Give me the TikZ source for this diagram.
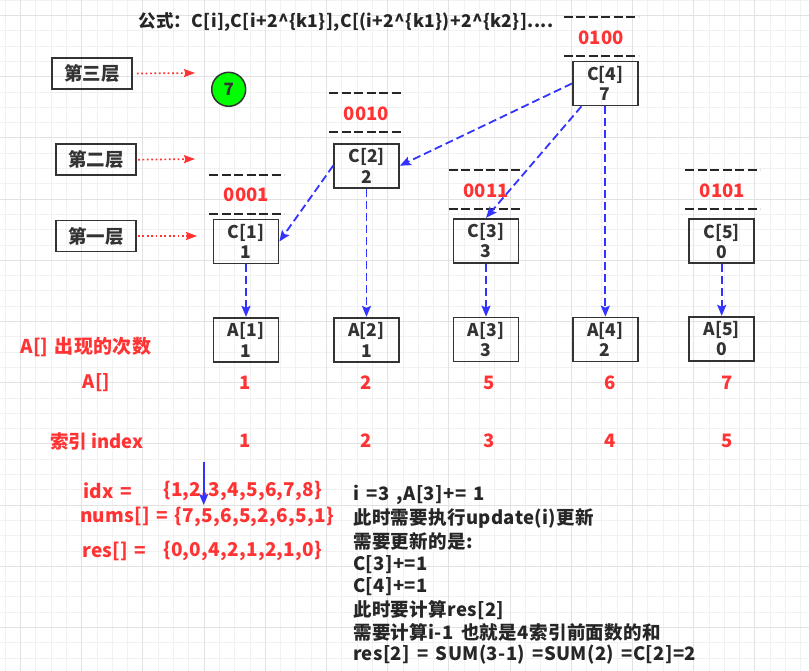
\documentclass[tikz,border=0pt]{standalone}
\usepackage{fontspec}
\setmainfont{Noto Sans CJK SC}
\newfontfamily\blackfont{Noto Sans CJK SC}[LetterSpace=2,WordSpace=1.6]
\newfontfamily\arrfont{Noto Sans CJK SC}[LetterSpace=1.5,WordSpace=1.4]
\usetikzlibrary{arrows.meta,calc}
\definecolor{myred}{HTML}{FF3333}
\definecolor{myblue}{HTML}{3333FF}
\definecolor{gridminor}{HTML}{F1F1F1}
\definecolor{gridmajor}{HTML}{E2E2E2}
\definecolor{ink}{HTML}{333333}
\definecolor{mygreen}{HTML}{00FF00}
\begin{document}
\begin{tikzpicture}[x=1pt,y=-1pt,
  layerbox/.style={draw=ink, line width=1.7, minimum width=80, minimum height=31, inner sep=0, text=ink, font=\fontsize{18.5}{20}\selectfont\bfseries},
  cbox/.style={draw=ink, line width=1.7, minimum width=65, minimum height=44, inner sep=0, align=center, text=ink, font=\fontsize{17.5}{20.5}\selectfont\bfseries},
  binlabel/.style={text=myred, inner sep=0, font=\fontsize{18.5}{20}\selectfont\bfseries},
  bindash/.style={draw=black!85, line width=1.8, dash pattern=on 9 off 3.5},
  redtext/.style={text=myred, inner sep=0, font=\fontsize{18.5}{20}\selectfont\bfseries},
  arrtext/.style={text=myred, inner sep=0, font=\arrfont\fontsize{19}{20}\selectfont\bfseries},
  blacktext/.style={text=black!85, inner sep=0, font=\blackfont\fontsize{18.5}{20}\selectfont\bfseries},
  bluearrow/.style={draw=myblue, line width=1.8, dash pattern=on 8 off 4, -{Stealth[length=11,width=9,inset=2,fill=myblue]}},
  redarrow/.style={draw=myred, line width=1.7, dash pattern=on 1.8 off 2.6, -{Stealth[length=11,width=8,inset=1.5,fill=myred]}},
]
\useasboundingbox (0,0) rectangle (809,671);
\fill[white] (0,0) rectangle (809,671);
% grid
\foreach \k in {-1,...,52} {\draw[gridminor, line width=0.9] ({20.5+15.3*\k},0) -- ({20.5+15.3*\k},671);}
\foreach \k in {-1,...,43} {\draw[gridminor, line width=0.9] (0,{15.5+15.3*\k}) -- (809,{15.5+15.3*\k});}
\foreach \k in {0,...,13} {\draw[gridmajor, line width=0.9] ({20.5+61.2*\k},0) -- ({20.5+61.2*\k},671);}
\foreach \k in {0,...,10} {\draw[gridmajor, line width=0.9] (0,{15.5+61.2*\k}) -- (809,{15.5+61.2*\k});}

% title
\node[blacktext, anchor=west] (title) at (138,22) {\resizebox{415pt}{!}{公式：C[i],C[i+2\^{}\{k1\}],C[(i+2\^{}\{k1\})+2\^{}\{k2\}]....}};

% layer boxes
\node[layerbox] (L3) at (92,73.5) {第三层};
\node[layerbox] (L2) at (96.2,159.7) {第二层};
\node[layerbox] (L1) at (96.2,236) {第一层};
\coordinate (t3) at (195,73);
\coordinate (t2) at (195,159);
\coordinate (t1) at (197,236);
\draw[redarrow] ([xshift=4]L3.east) -- (t3);
\draw[redarrow] ([xshift=1]L2.east) -- (t2);
\draw[redarrow] ([xshift=1]L1.east) -- (t1);

% green circle
\node[circle, fill=mygreen, draw=ink, line width=1.5, minimum size=34, inner sep=0, text=ink, font=\fontsize{17}{18}\selectfont\bfseries] (g7) at (228.7,89.3) {7};

% binary labels with dashed lines
\foreach \nm/\cx/\yt/\txt in {b1/246.5/174.7/0001, b2/366.5/93/0010, b4/601/17.3/0100, b3/486/170/0011, b5/722.5/170/0101} {
  \draw[bindash] (\cx-37.5,\yt) -- (\cx+37.5,\yt);
  \draw[bindash] (\cx-37.5,\yt+39) -- (\cx+37.5,\yt+39);
  \node[binlabel] (\nm) at (\cx,\yt+20.5) {\txt};
}

% C boxes
\node[cbox] (C1) at (246,241.5) {C[1]\\1};
\node[cbox] (C2) at (366.5,165.7) {C[2]\\2};
\node[cbox] (C3) at (486,240.7) {C[3]\\3};
\node[cbox] (C4) at (605.3,83.5) {C[4]\\7};
\node[cbox] (C5) at (721.7,241.3) {C[5]\\0};

% A boxes
\node[cbox] (A1) at (246,339.7) {A[1]\\1};
\node[cbox] (A2) at (366.5,339.7) {A[2]\\1};
\node[cbox] (A3) at (486,339.5) {A[3]\\3};
\node[cbox] (A4) at (605.3,339.5) {A[4]\\2};
\node[cbox] (A5) at (721.7,338.7) {A[5]\\0};

% blue dashed connectors
\draw[bluearrow] (C1) -- (A1);
\draw[bluearrow] (C2) -- (A2);
\draw[bluearrow] (C3) -- (A3);
\draw[bluearrow] (C4) -- (A4);
\draw[bluearrow] (C5) -- (A5);
\draw[bluearrow] (C2.west) -- (C1.east);
\draw[bluearrow] (C4.west) -- (C2.east);
\draw[bluearrow] ([xshift=9.5]C4.south west) -- (C3.north);

% row labels
\node[arrtext, anchor=west] (cntlab) at (20,347) {A[] 出现的次数};
\node[redtext] (alab) at (96.5,383) {A[]};
\node[redtext] (av1) at (245,383) {1};
\node[redtext] (av2) at (366,383) {2};
\node[redtext] (av3) at (489,383) {5};
\node[redtext] (av4) at (610,383) {6};
\node[redtext] (av5) at (727,383) {7};
\node[redtext, anchor=west] (idxlab) at (50,441) {索引 index};
\node[redtext] (iv1) at (245,441) {1};
\node[redtext] (iv2) at (366,441) {2};
\node[redtext] (iv3) at (489,441) {3};
\node[redtext] (iv4) at (610,441) {4};
\node[redtext] (iv5) at (727,441) {5};

% arrays
\node[arrtext, anchor=west] (idxa) at (83,490.7) {idx =};
\node[arrtext, anchor=west] (idxb) at (163,490.7) {\{1,2,3,4,5,6,7,8\}};
\node[arrtext, anchor=west] (nums) at (80,516.7) {nums[] = \{7,5,6,5,2,6,5,1\}};
\node[arrtext, anchor=west] (resa) at (82,551) {res[] =};
\node[arrtext, anchor=west] (resb) at (163,551) {\{0,0,4,2,1,2,1,0\}};
\coordinate (pa) at (203.7,462);
\coordinate (pb) at (203.7,505);
\draw[draw=myblue, line width=1.8, -{Stealth[length=11,width=9,inset=2,fill=myblue]}] (pa) -- (pb);

% explanation
\node[blacktext, anchor=west] (e1) at (353,495) {i =3 ,A[3]+= 1};
\node[blacktext, anchor=west] (e2) at (353,518.3) {此时需要执行update(i)更新};
\node[blacktext, anchor=west] (e3) at (353,541) {需要更新的是:};
\node[blacktext, anchor=west] (e4) at (353,564.3) {C[3]+=1};
\node[blacktext, anchor=west] (e5) at (353,586.7) {C[4]+=1};
\node[blacktext, anchor=west] (e6) at (353,610) {此时要计算res[2]};
\node[blacktext, anchor=west] (e7) at (353,632.7) {需要计算i-1 也就是4索引前面数的和};
\node[blacktext, anchor=west] (e8) at (353,655) {res[2] = SUM(3-1) =SUM(2) =C[2]=2};
\end{tikzpicture}
\end{document}
